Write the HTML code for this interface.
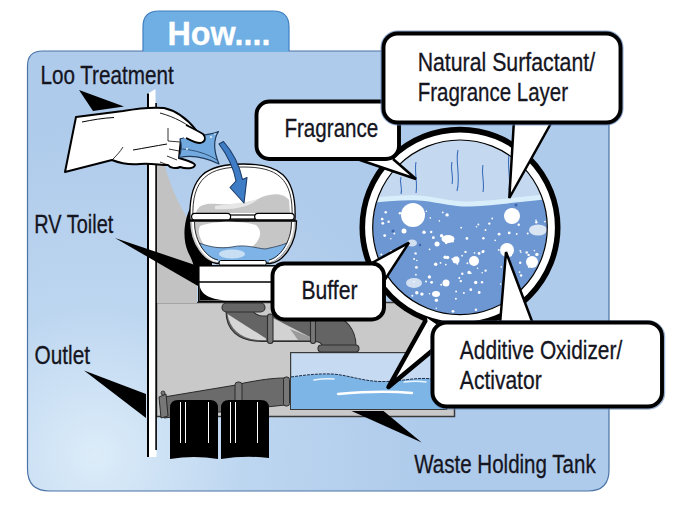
<!DOCTYPE html>
<html><head><meta charset="utf-8">
<style>
html,body{margin:0;padding:0;background:#fff;width:690px;height:509px;overflow:hidden}
svg{display:block}
text{font-family:"Liberation Sans",sans-serif;fill:#15151f;stroke:#15151f;stroke-width:0.3px}
</style></head>
<body>
<svg width="690" height="509" viewBox="0 0 690 509">
<defs>
<radialGradient id="pg" cx="95" cy="455" r="330" gradientUnits="userSpaceOnUse">
<stop offset="0" stop-color="#dcecf9"/>
<stop offset="0.45" stop-color="#bdd6f0"/>
<stop offset="1" stop-color="#afcbeb"/>
</radialGradient>
</defs>
<!-- tab -->
<path d="M143,51 L143,27 Q143,11 159,11 L273,11 Q289,11 289,27 L289,51 Z" fill="#70afe3" stroke="#3f7fc2" stroke-width="1.2"/>
<!-- panel -->
<path d="M27.5,469 L27.5,66 Q27.5,51 42.5,51 L594,51 Q609,51 609,66 L609,470 Q609,491 588,491 L49.5,491 Q27.5,491 27.5,469 Z" fill="url(#pg)" stroke="#4a73a6" stroke-width="1.2"/>
<rect x="143.6" y="50" width="144.8" height="2" fill="#70afe3"/>


<!-- ===== ILLUSTRATION ===== -->
<!-- gray chassis box -->
<rect x="156.5" y="302.5" width="298" height="114" fill="#c9c9c9" stroke="#3a3a3a" stroke-width="1.5"/>
<!-- gray wall behind toilet -->
<path d="M156,150 L160,150 C168,180 178,205 190,222 L197,266 L197,303 L156,303 Z" fill="#c2c2c2"/>
<!-- pole -->
<path d="M147,94 L155.5,89 L156.5,457 L147,457 Z" fill="#fff"/>
<rect x="147" y="93.5" width="2" height="363.5" fill="#000"/>
<rect x="155.3" y="103" width="1.6" height="347" fill="#000"/>

<!-- waste tank -->
<rect x="290.6" y="352.6" width="156" height="56.8" fill="#c6dbf1" stroke="#3a3a3a" stroke-width="1.2"/>
<path d="M291,377 C305,375 318,373.5 332,374 C348,375 362,381 380,381.5 C398,382 410,378 426,378.5 C436,379 442,380 446,380 L446,409 L291,409 Z" fill="#7db5e6"/>
<path d="M291,377 C305,375 318,373.5 332,374 C348,375 362,381 380,381.5 C398,382 410,378 426,378.5 C436,379 442,380 446,380" fill="none" stroke="#1e2c44" stroke-width="1" stroke-dasharray="3,1"/>
<path d="M338,394 C360,392 390,391 412,393" fill="none" stroke="#fff" stroke-width="2.4" stroke-linecap="round"/>
<path d="M314,380 C320,379 328,378.5 334,379" fill="none" stroke="#e8f4fc" stroke-width="1.6" stroke-linecap="round"/>
<path d="M404,382 C412,381 420,381 426,382" fill="none" stroke="#e8f4fc" stroke-width="1.4" stroke-linecap="round"/>

<!-- pipes from toilet -->
<path d="M226,311 C226,330 238,341.5 262,341.5 L316,341.5 L316,316 L262,316 C258,316 254,313 253,311 Z" fill="#646464" stroke="#2e2e2e" stroke-width="1.1"/>
<path d="M227.5,314 L266,338.5 L266,340 L262,340 C242,340 230,330 227.5,314 Z" fill="#d6d6d6"/>
<path d="M273,318 L310,337 L310,340 L273,340 Z" fill="#d2d2d2"/>
<path d="M290,329 L310,337 L310,340 L298,340 Z" fill="#9a9a9a"/>
<rect x="222" y="303" width="43" height="9" rx="4.5" fill="#666" stroke="#2e2e2e" stroke-width="1.1"/>
<rect x="267.5" y="314" width="5.5" height="29.5" rx="2.7" fill="#777" stroke="#2e2e2e" stroke-width="1.1"/>
<path d="M314,316 L330,316 C346,316 356,330 356,346 L322,346 C322,344 320,341.5 314,341.5 Z" fill="#646464" stroke="#2e2e2e" stroke-width="1.1"/>
<rect x="310.5" y="314" width="5" height="29.5" rx="2.5" fill="#777" stroke="#2e2e2e" stroke-width="1.1"/>
<rect x="318" y="345" width="41" height="7" rx="3.5" fill="#666" stroke="#2e2e2e" stroke-width="1.1"/>

<!-- outlet pipe -->
<path d="M164,397 L236,385 L244,383 C260,380 272,378 285,378 L285,405 L164,418 Z" fill="#6b6b6b" stroke="#2a2a2a" stroke-width="1"/>
<rect x="235" y="382" width="7" height="30" rx="3" fill="#777" stroke="#2a2a2a" stroke-width="1"/>
<rect x="283.5" y="377" width="6" height="29" rx="2.5" fill="#777" stroke="#2a2a2a" stroke-width="1"/>
<path d="M159,397 L166,394 L168,416 L161,418 Z" fill="#777" stroke="#2a2a2a" stroke-width="1"/>
<circle cx="163" cy="393" r="2" fill="#777" stroke="#2a2a2a" stroke-width="0.8"/>

<!-- tires -->
<path d="M170,459 L170,408 Q170,400 178,400 L210,400 Q218,400 218,408 L218,459 Q194,455 170,459 Z" fill="#000"/>
<path d="M221,459 L221,408 Q221,400 229,400 L261,400 Q269,400 269,408 L269,458 Q245,455 221,459 Z" fill="#000"/>
<g stroke="#fff" stroke-width="1">
<line x1="180.5" y1="402" x2="180.5" y2="443"/><line x1="185.5" y1="402" x2="185.5" y2="443"/><line x1="208.5" y1="402" x2="208.5" y2="443"/>
<line x1="230.5" y1="402" x2="230.5" y2="443"/><line x1="235.5" y1="402" x2="235.5" y2="443"/><line x1="257.5" y1="402" x2="257.5" y2="443"/>
</g>

<!-- toilet shadow -->
<path d="M191,206 C184,220 182,238 188,252 C192,260 196,268 197,285 L212,285 L212,230 Z" fill="#000"/>
<!-- pedestal -->
<rect x="198.8" y="265.8" width="80" height="35.7" fill="#fff" stroke="#000" stroke-width="1.5"/>
<line x1="199" y1="282" x2="278" y2="282" stroke="#000" stroke-width="1.5"/>
<path d="M199.5,285 C201,294 208,299 226,300.5 L199.5,300.5 Z" fill="#000"/>
<!-- bowl -->
<path d="M189.5,221 C189.5,245 204,262 217,263.5 L270,263.5 C283,262 296.5,245 296.5,221 Z" fill="#c6c6c6" stroke="#000" stroke-width="1.3"/>
<path d="M200,226 C212,221 240,220 256,225 C264,232 259,241 252,247 L206,247 C200,240 197,232 200,226 Z" fill="#fff"/>
<path d="M199,243 C210,247 220,249 232,247 C245,244 255,248 265,249 C275,247 283,245 289,242 C285,254 277,261 268,262.5 L218,262.5 C210,259 203,252 199,243 Z" fill="#7db3e6" stroke="#2c3a50" stroke-width="0.8"/>
<ellipse cx="232" cy="254" rx="13" ry="4.5" fill="#c7def3"/>
<path d="M193,222 C193,243 206,259 218,261.5 M293,222 C293,243 280,259 269,261.5" fill="none" stroke="#fff" stroke-width="2"/>
<path d="M194.5,222 C194.5,243 207,258 218,260 M291.5,222 C291.5,243 279,258 269,260" fill="none" stroke="#000" stroke-width="0.8"/>
<rect x="219.2" y="260.5" width="47" height="4.5" rx="1.5" fill="#fff" stroke="#000" stroke-width="1"/>
<!-- dome lid -->
<path d="M190,220 C188,174 208,164 243,164 C278,164 297,174 295,220 Z" fill="#fff" stroke="#000" stroke-width="1.3"/>
<path d="M193,219 C191,177 210,167 243,167 C276,167 294,177 292,219" fill="none" stroke="#000" stroke-width="0.8"/>
<path d="M196,213 C198,205 205,203 218,204 C235,205 250,204 262,197 C275,192 285,194 289,200 L290,213 Z" fill="#c6c6c6"/>
<path d="M215,206 C230,204 245,203 258,199 C250,207 235,210 215,209 Z" fill="#e6e6e6"/>
<rect x="230" y="215" width="25" height="4" fill="#fff" stroke="#000" stroke-width="1.2"/>
<rect x="191.6" y="213.4" width="39" height="6.5" rx="3.2" fill="#fff" stroke="#000" stroke-width="1.2"/>
<rect x="254.7" y="213.4" width="39.5" height="6.5" rx="3.2" fill="#fff" stroke="#000" stroke-width="1.2"/>


<!-- ===== wedges (black pointers) ===== -->
<path d="M79,90 L124,106.5 L93,111 Z" fill="#000"/>
<path d="M115,238 L198,266 L198,286 Z" fill="#000"/>
<path d="M84,370.6 L146,394 L146,418 Z" fill="#000"/>
<path d="M351.5,411 L383.5,411 L421.7,442.5 Z" fill="#000"/>

<!-- ===== hand ===== -->
<path d="M76,117 L123,111 C140,108 152,107 164,108 C178,111 188,120 196,130 L190,139 L181,139 L179,158 C185,160 194,162 195,165 C194,169 186,169 180,167 C176,169 170,168 168,165 C160,165 150,163 140,164 C130,165 122,164 112,160 L65,172 Z" fill="#fff" stroke="#000" stroke-width="2" stroke-linejoin="round"/>
<path d="M82,122 C92,120 103,118 114,117.5" fill="none" stroke="#000" stroke-width="1"/>
<path d="M133,150 C145,148 155,146 167,144" fill="none" stroke="#000" stroke-width="1"/>
<path d="M112,160 C116,156 120,152 123,147" fill="none" stroke="#000" stroke-width="0.8"/>
<path d="M160,113 C175,117 187,124 197,132" fill="none" stroke="#000" stroke-width="0.9"/>
<path d="M168,128 L168,141 L180,142 M169,149 L179,151 M167,156 L177,160 M160,162 L168,165" fill="none" stroke="#000" stroke-width="0.8"/>
<!-- sachet -->
<path d="M180,139 C190,135 205,137 218.5,131.5 C213,140 214,152 219,164 C205,157 190,155 179,157.5 C182,150 182,145 180,139 Z" fill="#72aadf" stroke="#203a5c" stroke-width="1.2" stroke-linejoin="round"/>
<path d="M182,149 C195,150 208,154 217,160" fill="none" stroke="#203a5c" stroke-width="0.8"/>
<circle cx="187" cy="149" r="1" fill="#e8f6ff"/><circle cx="211" cy="137" r="1" fill="#e8f6ff"/><circle cx="215" cy="134" r="0.8" fill="#e8f6ff"/>
<!-- thumb -->
<path d="M184,124 C192,128 198,131 203,134 C206,137 206,142 200,143 C195,143 190,140 184,138 Z" fill="#fff"/>
<path d="M186,125 C192,128 198,131 203,134 C206,137 206,142 200,143 C195,143 190,140 186,138" fill="none" stroke="#000" stroke-width="1.8" stroke-linejoin="round"/>
<!-- arrow -->
<path d="M219,144 C225,152 233,165 236,181 L230,187.5 L244,203 L247,177.5 L242.5,179.5 C239,163 231,150 223.5,141.5 Z" fill="#3f7cc6" stroke="#1c3b66" stroke-width="1.1" stroke-linejoin="round"/>

<!-- ===== magnifier circle ===== -->
<clipPath id="cc"><circle cx="460" cy="227.3" r="87"/></clipPath>

<circle cx="460" cy="227.3" r="97.7" fill="#fff" stroke="#000" stroke-width="5.6"/>
<g clip-path="url(#cc)">
<rect x="360" y="130" width="200" height="200" fill="#c4d8ef"/>
<path d="M370,198 C390,196 410,194 425,196 C440,198 455,202 470,201.5 C500,200 525,196 550,194 L550,320 L370,320 Z" fill="#d8effb"/>
<path d="M370,203 C390,201 410,199 425,201 C440,203 455,207 470,206.5 C500,205 525,201 550,199 L550,320 L370,320 Z" fill="#6d97d3"/>
<g fill="#fff"><circle cx="445.1" cy="257.2" r="1.7"/><circle cx="534.4" cy="250.6" r="0.8"/><circle cx="446.2" cy="242.8" r="1.4"/><circle cx="465.5" cy="251.9" r="1.2"/><circle cx="483.4" cy="238.3" r="1.2"/><circle cx="520.3" cy="250.8" r="0.9"/><circle cx="520.9" cy="252.2" r="0.8"/><circle cx="478.4" cy="224.5" r="0.9"/><circle cx="452.0" cy="259.0" r="0.8"/><circle cx="426.4" cy="211.2" r="0.8"/><circle cx="439.4" cy="220.9" r="0.8"/><circle cx="385.7" cy="212.3" r="1.2"/><circle cx="436.4" cy="300.2" r="1.7"/><circle cx="441.2" cy="284.8" r="1.0"/><circle cx="489.3" cy="223.6" r="1.2"/><circle cx="485.6" cy="270.6" r="1.2"/><circle cx="385.7" cy="267.1" r="0.8"/><circle cx="390.8" cy="238.7" r="0.8"/><circle cx="391.4" cy="251.7" r="1.7"/><circle cx="412.3" cy="295.7" r="1.0"/><circle cx="474.5" cy="252.9" r="0.8"/><circle cx="469.1" cy="272.5" r="1.7"/><circle cx="460.8" cy="281.1" r="1.2"/><circle cx="510.4" cy="255.3" r="1.4"/><circle cx="454.5" cy="258.6" r="1.2"/><circle cx="415.6" cy="253.4" r="1.2"/><circle cx="492.2" cy="218.5" r="0.9"/><circle cx="500.6" cy="284.1" r="0.8"/><circle cx="394.3" cy="233.5" r="1.0"/><circle cx="453.5" cy="259.5" r="1.4"/><circle cx="415.9" cy="274.7" r="0.9"/><circle cx="536.9" cy="254.4" r="1.7"/><circle cx="437.7" cy="243.7" r="1.7"/><circle cx="429.6" cy="249.3" r="0.9"/><circle cx="433.4" cy="237.7" r="1.4"/><circle cx="461.2" cy="227.7" r="0.9"/><circle cx="442.8" cy="212.4" r="0.9"/><circle cx="459.3" cy="278.0" r="1.0"/><circle cx="431.2" cy="232.0" r="1.2"/><circle cx="518.7" cy="224.8" r="1.2"/><circle cx="447.6" cy="257.5" r="1.7"/><circle cx="435.7" cy="264.3" r="1.7"/><circle cx="466.9" cy="238.4" r="1.4"/><circle cx="413.9" cy="281.8" r="0.8"/><circle cx="470.8" cy="289.7" r="1.4"/><circle cx="440.5" cy="262.9" r="0.9"/><circle cx="409.0" cy="221.6" r="0.8"/><circle cx="536.3" cy="222.3" r="1.2"/><circle cx="455.9" cy="298.7" r="1.0"/><circle cx="381.3" cy="254.4" r="1.0"/><circle cx="509.9" cy="212.8" r="0.9"/><circle cx="507.2" cy="262.6" r="1.0"/><circle cx="479.2" cy="292.5" r="1.4"/><circle cx="520.2" cy="262.8" r="1.2"/><circle cx="424.0" cy="232.3" r="1.7"/><circle cx="421.9" cy="294.1" r="1.7"/><circle cx="416.8" cy="260.5" r="0.8"/><circle cx="483.3" cy="251.2" r="1.2"/><circle cx="430.3" cy="217.9" r="0.8"/><circle cx="519.5" cy="272.1" r="0.9"/><circle cx="386.5" cy="259.7" r="0.9"/><circle cx="499.1" cy="234.2" r="1.4"/><circle cx="463.9" cy="293.0" r="1.0"/><circle cx="528.6" cy="254.9" r="1.2"/><circle cx="382.2" cy="219.1" r="1.4"/><circle cx="482.8" cy="251.8" r="1.4"/><circle cx="516.7" cy="234.0" r="0.9"/><circle cx="479.1" cy="253.5" r="1.4"/><circle cx="431.6" cy="282.3" r="1.4"/><circle cx="384.7" cy="235.6" r="1.4"/><circle cx="495.2" cy="240.4" r="0.8"/><circle cx="388.6" cy="221.8" r="1.2"/><circle cx="382.8" cy="223.3" r="1.4"/><circle cx="456.1" cy="291.5" r="0.9"/><circle cx="501.3" cy="266.9" r="0.8"/><circle cx="471.0" cy="273.3" r="0.8"/><circle cx="510.3" cy="290.5" r="1.2"/><circle cx="475.9" cy="309.7" r="1.2"/><circle cx="414.1" cy="259.0" r="1.0"/><circle cx="429.5" cy="293.7" r="0.8"/><circle cx="429.4" cy="276.9" r="1.7"/><circle cx="509.2" cy="232.9" r="1.4"/><circle cx="436.3" cy="308.2" r="0.8"/><circle cx="536.0" cy="220.2" r="0.8"/><circle cx="498.7" cy="249.9" r="0.9"/><circle cx="456.0" cy="258.0" r="1.2"/><circle cx="399.9" cy="213.2" r="1.2"/><circle cx="526.7" cy="252.5" r="1.2"/><circle cx="485.5" cy="230.0" r="1.0"/><circle cx="528.8" cy="267.3" r="0.8"/><circle cx="457.3" cy="257.2" r="0.8"/><circle cx="426.0" cy="281.5" r="1.0"/><circle cx="447.1" cy="214.9" r="1.7"/><circle cx="462.1" cy="255.7" r="0.9"/><circle cx="457.3" cy="263.8" r="1.0"/><circle cx="475.7" cy="282.5" r="1.7"/><circle cx="482.2" cy="272.8" r="0.8"/><circle cx="476.5" cy="226.7" r="0.8"/><circle cx="482.0" cy="282.3" r="1.2"/><circle cx="521.1" cy="275.5" r="1.2"/><circle cx="445.8" cy="264.6" r="0.9"/><circle cx="416.8" cy="292.8" r="1.7"/><circle cx="545.0" cy="221.6" r="0.9"/><circle cx="527.7" cy="233.4" r="1.0"/><circle cx="441.6" cy="235.8" r="1.7"/><circle cx="462.3" cy="273.8" r="1.2"/><circle cx="477.6" cy="268.3" r="0.8"/><circle cx="453.0" cy="311.3" r="1.4"/><circle cx="452.9" cy="241.6" r="1.0"/><circle cx="467.4" cy="263.3" r="1.0"/><circle cx="416.4" cy="267.4" r="1.4"/><ellipse cx="413" cy="215" rx="12" ry="12" fill-opacity="1"/><ellipse cx="512" cy="216" rx="8" ry="8" fill-opacity="1"/><ellipse cx="538" cy="230" rx="9" ry="5.5" fill-opacity="0.75"/><ellipse cx="448" cy="239" rx="6.5" ry="4" fill-opacity="1"/><ellipse cx="412" cy="243" rx="5" ry="3.5" fill-opacity="0.7"/><ellipse cx="507" cy="250" rx="7" ry="7" fill-opacity="1"/><ellipse cx="404" cy="231" rx="2.5" ry="2.5" fill-opacity="1"/><ellipse cx="456" cy="260" rx="3.5" ry="3.5" fill-opacity="1"/><ellipse cx="474" cy="261" rx="5" ry="5" fill-opacity="1"/><ellipse cx="532" cy="262" rx="6" ry="6" fill-opacity="1"/><ellipse cx="414" cy="283" rx="8" ry="5" fill-opacity="0.7"/><ellipse cx="446" cy="283" rx="3.5" ry="3.5" fill-opacity="1"/><ellipse cx="436" cy="294" rx="4" ry="3" fill-opacity="1"/><ellipse cx="437" cy="244" rx="2.5" ry="2.5" fill-opacity="1"/></g>
<g fill="#3c64a8"><circle cx="393" cy="231" r="1.5"/><circle cx="420" cy="245" r="1.2"/><circle cx="516" cy="205" r="1.5"/></g>
<g fill="none" stroke="#3d6fbd" stroke-width="1.1">
<path d="M401,177 C399,183 403,188 401,194"/>
<path d="M416,162 C414,172 418,182 416,193"/>
<path d="M452,162 C450,170 454,176 452,184"/>
<path d="M458,150 C455,162 461,176 457,191"/>
<path d="M483,165 C481,174 485,183 483,192"/>
<path d="M509,155 C507,166 511,178 509,190"/>
</g>
</g>
<circle cx="460" cy="227.3" r="87.3" fill="none" stroke="#000" stroke-width="1.2"/>

<!-- circle-to-tank pointer -->
<path d="M427,318 L388.5,387 L433,350" fill="#fff" stroke="#000" stroke-width="4.5" stroke-linejoin="round"/>
<path d="M418,312 L427,318 L433,350 L445,330 Z" fill="#fff"/>

<!-- fragrance bubble -->
<path d="M357,159 L416,179 L393,159" fill="#fff" stroke="#000" stroke-width="2.5" stroke-linejoin="miter"/>
<rect x="256.5" y="101.5" width="142.5" height="57.5" rx="13" fill="#fff" stroke="#000" stroke-width="3.9"/>

<!-- NS bubble -->
<path d="M514,120 L509.3,198 L552.8,120" fill="#fff" stroke="#000" stroke-width="2.5" stroke-linejoin="miter"/>
<rect x="383.5" y="33.5" width="237" height="89" rx="14" fill="none" stroke="#5d82b8" stroke-opacity="0.7" stroke-width="6"/>
<rect x="383.5" y="33.5" width="237" height="89" rx="14" fill="#fff" stroke="#000" stroke-width="3.9"/>

<!-- buffer bubble -->
<path d="M370,264 L409,242.6 L384,281" fill="#fff" stroke="#000" stroke-width="2.5" stroke-linejoin="miter"/>
<rect x="272.5" y="263.5" width="111.5" height="56" rx="12" fill="#fff" stroke="#000" stroke-width="3.9"/>

<!-- AO bubble -->
<path d="M500,324 L506,252 L533,324" fill="#fff" stroke="#000" stroke-width="2.5" stroke-linejoin="miter"/>
<rect x="433" y="323" width="229.5" height="84" rx="14" fill="none" stroke="#5d82b8" stroke-opacity="0.6" stroke-width="5.5"/>
<rect x="432.5" y="322.5" width="229.5" height="84" rx="14" fill="#fff" stroke="#000" stroke-width="3.9"/>

<!-- labels -->
<text x="40.42" y="83.7" font-size="25.2" textLength="133.23" lengthAdjust="spacingAndGlyphs">Loo Treatment</text>
<text x="34.33" y="232.8" font-size="25.2" textLength="78.91" lengthAdjust="spacingAndGlyphs">RV Toilet</text>
<text x="34.62" y="364.3" font-size="25.2" textLength="55.44" lengthAdjust="spacingAndGlyphs">Outlet</text>
<text x="284.41" y="137.1" font-size="25.2" textLength="93.91" lengthAdjust="spacingAndGlyphs">Fragrance</text>
<text x="417.65" y="70.9" font-size="25.2" textLength="177.45" lengthAdjust="spacingAndGlyphs">Natural Surfactant/</text>
<text x="417.72" y="100.5" font-size="25.2" textLength="150.32" lengthAdjust="spacingAndGlyphs">Fragrance Layer</text>
<text x="301.38" y="298.8" font-size="25.2" textLength="56.07" lengthAdjust="spacingAndGlyphs">Buffer</text>
<text x="459.86" y="358.5" font-size="25.2" textLength="162.34" lengthAdjust="spacingAndGlyphs">Additive Oxidizer/</text>
<text x="459.86" y="388.5" font-size="25.2" textLength="81.79" lengthAdjust="spacingAndGlyphs">Activator</text>
<text x="414.21" y="472.6" font-size="25.2" textLength="181.46" lengthAdjust="spacingAndGlyphs">Waste Holding Tank</text>
<text x="167.46" y="45" font-size="33" font-weight="bold" style="fill:#fff;stroke:#fff" textLength="102.94" lengthAdjust="spacingAndGlyphs">How....</text>

</svg>
</body></html>
